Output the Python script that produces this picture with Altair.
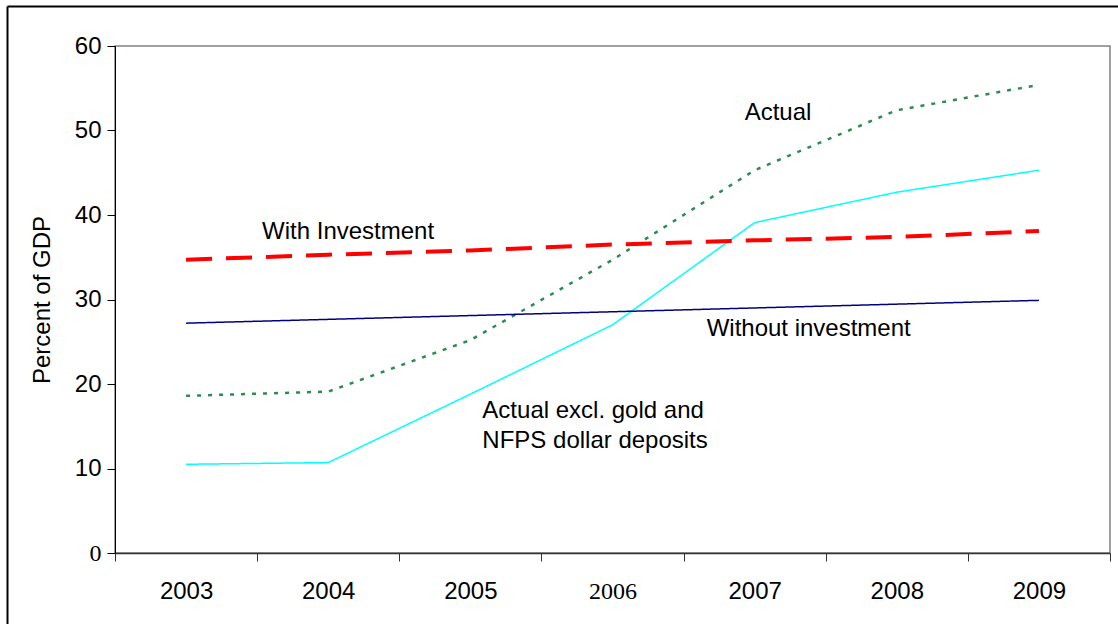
import altair as alt
import pandas as pd

years = ["2003", "2004", "2005", "2006", "2007", "2008", "2009"]
actual = [18.6, 19.1, 25.2, 34.7, 45.3, 52.4, 55.4]
actual_excl = [10.5, 10.7, 18.8, 27.0, 39.1, 42.7, 45.3]
with_inv = [34.7, 35.3, 35.8, 36.5, 37.0, 37.4, 38.1]
without_inv = [27.2, 27.65, 28.1, 28.55, 29.0, 29.45, 29.9]

series_names = ["Actual", "Actual excl", "With investment", "Without investment"]
series_values = [actual, actual_excl, with_inv, without_inv]
series_colors = ["#2e8b57", "#00ffff", "#ff0000", "#000080"]
series_widths = [2.5, 1.5, 4, 1.5]
series_dashes = [[4, 7], [1, 0], [26, 14], [1, 0]]

label_texts = ["Actual", "With Investment", "Without investment",
               "Actual excl. gold and", "NFPS dollar deposits"]
label_years = ["2007", "2003", "2007", "2005", "2005"]
label_values = [52.1, 38.0, 26.5, 16.8, 13.3]
label_dx = [-10, 76, -48, 12, 12]

rows = []
for name, vals in zip(series_names, series_values):
    for y, v in zip(years, vals):
        rows.append({"series": name, "year": y, "value": v})
df = pd.DataFrame(rows)

FONT = "Liberation Sans"
FS = 24

x_enc = alt.X(
    "year:N", sort=years, title=None, bandPosition=0.5,
    scale=alt.Scale(type="band", paddingInner=0, paddingOuter=0, domain=years),
    axis=alt.Axis(
        tickBand="extent", tickSize=8, labelPadding=18, labelFontSize=FS,
        labelFont={"condition": {"test": "datum.value === '2006'", "value": "Liberation Serif"},
                   "value": FONT},
        labelColor="black", domainColor="#333333", domainWidth=1.5,
        tickColor="#333333", labelAngle=0, grid=False,
    ),
)
y_enc = alt.Y(
    "value:Q", title="Percent of GDP",
    scale=alt.Scale(domain=[0, 60], nice=False, zero=True),
    axis=alt.Axis(
        values=[0, 10, 20, 30, 40, 50, 60], tickSize=8, labelPadding=6,
        labelFontSize=FS,
        labelFont={"condition": {"test": "datum.label === '0'", "value": "Liberation Serif"},
                   "value": FONT},
        labelColor="black", domainColor="black", tickColor="black", grid=False,
        titleFont=FONT, titleFontSize=FS, titleFontWeight="normal", titleColor="black",
        titlePadding=20,
    ),
)

layers = []
for name, color, w, dash in zip(series_names, series_colors, series_widths, series_dashes):
    layers.append(
        alt.Chart(df).transform_filter(alt.datum.series == name)
        .mark_line(color=color, strokeWidth=w, strokeDash=dash)
        .encode(x=x_enc, y=y_enc)
    )

for t, yr, v, dx in zip(label_texts, label_years, label_values, label_dx):
    ldf = pd.DataFrame({"year": [yr], "value": [v], "text": [t]})
    layers.append(
        alt.Chart(ldf).mark_text(align="left", baseline="middle", dx=dx,
                                 font=FONT, fontSize=FS, color="black")
        .encode(x=x_enc, y=y_enc, text="text:N")
    )

frame_data = alt.Data(values=[{"a": 1}])
left_frame = alt.Chart(frame_data).mark_rule(color="black", strokeWidth=2).encode(
    x=alt.value(-107.5), y=alt.value(-39.5), y2=alt.value(700))
top_frame = alt.Chart(frame_data).mark_rule(color="black", strokeWidth=2).encode(
    x=alt.value(-107.5), x2=alt.value(1200), y=alt.value(-39.5))
layers += [left_frame, top_frame]

chart = alt.layer(*layers).properties(
    width=995, height=507,
    autosize=alt.AutoSizeParams(type="none"),
    padding={"left": 115, "top": 46, "right": 8, "bottom": 71},
    background="white",
).configure_view(stroke="#808080", strokeWidth=1.5)

chart.save("out.html", embed_options={"renderer": "svg", "actions": False})
